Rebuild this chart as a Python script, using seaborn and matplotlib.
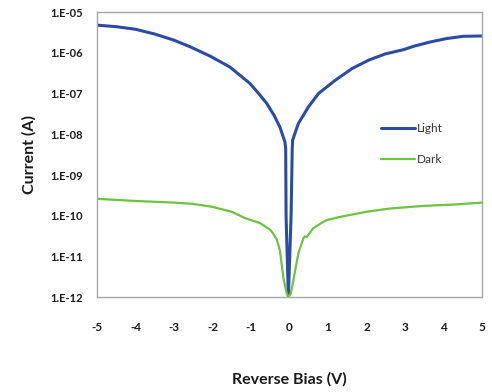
import numpy as np
import pandas as pd
import matplotlib
matplotlib.use("Agg")
import matplotlib.pyplot as plt
import matplotlib.ticker as mticker
import seaborn as sns

# ---- data ----
volts_light = [-5.0, -4.5, -4.0, -3.5, -3.0, -2.58, -2.06, -1.55, -1.03, -0.8, -0.59,
               -0.4, -0.25, -0.12, -0.10, -0.09, -0.03, 0.04, 0.07, 0.08, 0.23, 0.49,
               0.75, 1.18, 1.62, 2.05, 2.48, 2.96, 3.22, 3.65, 4.08, 4.51, 5.0]
current_light = [4.8e-6, 4.4e-6, 3.8e-6, 2.9e-6, 2.05e-6, 1.41e-6, 8.3e-7, 4.5e-7, 1.78e-7,
                 1.0e-7, 5.7e-8, 2.9e-8, 1.5e-8, 6.5e-9, 4.5e-9, 1e-10, 1.0e-12, 1e-10,
                 4.5e-9, 7.2e-9, 1.85e-8, 4.7e-8, 1e-7, 2.1e-7, 4.1e-7, 6.6e-7, 9.4e-7,
                 1.2e-6, 1.45e-6, 1.85e-6, 2.25e-6, 2.55e-6, 2.6e-6]

volts_dark = [-5.0, -4.0, -3.0, -2.5, -2.0, -1.5, -1.15, -0.77, -0.5, -0.43, -0.33, -0.25,
              -0.16, -0.08, -0.03, 0.03, 0.1, 0.18, 0.23, 0.36, 0.40, 0.44, 0.5, 0.61,
              0.87, 0.97, 1.3, 2.0, 2.6, 3.47, 4.35, 5.0]
current_dark = [2.6e-10, 2.3e-10, 2.1e-10, 1.95e-10, 1.65e-10, 1.25e-10, 8.7e-11, 6.6e-11,
                4.5e-11, 3.7e-11, 2.6e-11, 1.4e-11, 3e-12, 1.3e-12, 1.0e-12, 1.2e-12,
                2.6e-12, 6.8e-12, 1.2e-11, 2.8e-11, 3.1e-11, 3.0e-11, 3.5e-11, 4.9e-11,
                7e-11, 7.8e-11, 9.3e-11, 1.25e-10, 1.5e-10, 1.74e-10, 1.9e-10, 2.1e-10]

series_names = ["Light", "Dark"]
series_colors = ["#2B4BA6", "#6CC33F"]
series_widths = [2.2, 1.6]
x_ticks = [-5, -4, -3, -2, -1, 0, 1, 2, 3, 4, 5]
y_exponents = [-12, -11, -10, -9, -8, -7, -6, -5]
x_label = "Reverse Bias (V)"
y_label = "Current (A)"

df = pd.concat([
    pd.DataFrame({"V": volts_light, "I": current_light, "series": "Light"}),
    pd.DataFrame({"V": volts_dark, "I": current_dark, "series": "Dark"}),
], ignore_index=True)

sns.set_theme(style="white")
plt.rcParams["font.family"] = ["Lato", "DejaVu Sans"]

fig = plt.figure(figsize=(4.92, 3.92), dpi=100)
ax = fig.add_axes([0.197, 0.242, 0.783, 0.727])

for name, col, lw in zip(series_names, series_colors, series_widths):
    sub = df[df["series"] == name]
    sns.lineplot(data=sub, x="V", y="I", ax=ax, color=col, linewidth=lw,
                 sort=False, estimator=None, label=name)

ax.set_yscale("log")
ax.set_xlim(-5, 5)
ax.set_ylim(1e-12, 1e-5)
ax.set_xticks(x_ticks)
ax.set_xticklabels([str(t) for t in x_ticks], fontweight="bold", fontsize=8.5)
ax.yaxis.set_major_locator(mticker.FixedLocator([10.0 ** e for e in y_exponents]))
ax.yaxis.set_minor_locator(mticker.NullLocator())
ax.set_yticklabels([f"1.E-{-e:02d}" for e in y_exponents], fontweight="bold", fontsize=8)

for s in ax.spines.values():
    s.set_color("#A6A6A6")
    s.set_linewidth(1.0)
ax.tick_params(axis="x", direction="out", length=4, width=1, color="#A6A6A6", pad=14)
ax.tick_params(axis="y", direction="out", length=4, width=1, color="#A6A6A6", pad=6)
ax.tick_params(axis="both", labelcolor="#1a1a1a")

ax.set_xlabel(x_label, fontweight="bold", fontsize=11.5, labelpad=28, color="#1a1a1a")
ax.set_ylabel(y_label, fontweight="bold", fontsize=11.5, labelpad=10, color="#1a1a1a")

leg = ax.legend(loc="center left", bbox_to_anchor=(0.71, 0.537), frameon=False,
                fontsize=8.5, handlelength=2.9, handletextpad=0.15, labelspacing=1.75)
for t in leg.get_texts():
    t.set_color("#333333")

fig.savefig("out.png", dpi=100)
